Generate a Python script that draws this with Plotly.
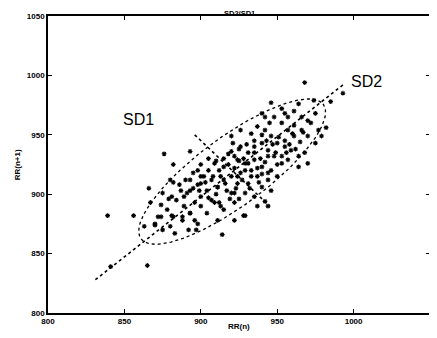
import numpy as np
import plotly.graph_objects as go

# RR(n) / RR(n+1) Poincaré points (ms)
rr_n = [839, 856, 865, 841, 876, 882, 893, 968, 982, 985, 993, 928, 922, 914,
        882, 887, 881, 878, 872, 870, 875, 882, 888, 893, 896, 892, 896, 891,
        893, 898, 902, 904, 907, 900, 899, 911, 913, 915, 909, 918, 921, 916,
        920, 913, 911, 922, 924, 924,
        946, 964, 974, 957, 966, 972, 977, 979, 975, 970, 966, 961, 957, 953,
        948, 942, 937, 933, 926, 942, 946, 950, 955, 959, 964, 968, 970, 964,
        957, 953, 948, 944, 940, 935, 931, 926, 922, 929, 935, 940, 946, 950,
        944, 937, 933, 926, 924, 931, 940, 946, 935, 929, 922, 937, 942, 944,
        929, 920, 940, 955,
        880, 875, 879, 867, 874, 889, 893, 900, 907, 911, 893, 888, 881, 874,
        870, 880, 883, 898, 897, 904, 909, 863, 866,
        912, 915, 918, 920, 922, 925, 927, 929, 931, 933, 935, 937, 939, 910,
        905, 908, 903, 900, 898, 895, 917, 919, 923, 940, 942, 944, 947, 949,
        951, 953, 955, 958, 960, 962, 965, 945, 940, 935, 930, 925, 920, 915,
        910, 905, 900, 895, 890, 886, 884, 889, 900, 905, 912, 915, 925, 932,
        938, 944, 950, 956, 961, 967, 970, 975, 961, 953, 943, 928]
rr_n1 = [882, 882, 840, 839, 934, 925, 936, 994, 956, 978, 985, 882, 878, 866,
         910, 903, 898, 887, 881, 874, 870, 881, 878, 884, 878, 870, 893, 901,
         912, 920, 915, 903, 895, 898, 903, 906, 915, 923, 926, 934, 943, 909,
         901, 890, 878, 893, 915, 929,
         977, 976, 979, 965, 965, 960, 954, 949, 943, 949, 954, 949, 954, 960,
         965, 965, 957, 951, 954, 954, 949, 943, 940, 937, 932, 935, 926, 923,
         929, 926, 932, 937, 943, 940, 935, 940, 932, 926, 929, 923, 920, 915,
         912, 915, 920, 918, 909, 909, 906, 903, 898, 901, 901, 890, 894, 890,
         882, 949, 968, 968,
         912, 901, 896, 893, 891, 898, 903, 909, 912, 906, 884, 881, 882, 881,
         875, 873, 867, 875, 870, 884, 893, 873, 905,
         920, 912, 925, 915, 922, 928, 912, 920, 926, 915, 935, 922, 930, 900,
         920, 915, 910, 915, 908, 905, 903, 896, 905, 917, 927, 932, 942, 935,
         948, 932, 945, 942, 951, 938, 944, 960, 950, 945, 942, 938, 936, 930,
         928, 930, 925, 918, 912, 908, 895, 890, 890, 897, 893, 887, 896, 905,
         910, 918, 925, 935, 958, 952, 962, 968, 970, 972, 945, 930]

# Poincaré descriptors (ms)
center_x, center_y = 920.5, 919.0
sd2_half = 82.5
sd1_half = 26.0
sd2_line_x = [831, 993]
sd2_line_y = [828, 992]
sd1_line_x = [896, 945]
sd1_line_y = [950, 890]

x_ticks = [800, 850, 900, 950, 1000, 1050]
y_ticks = [800, 850, 900, 950, 1000, 1050]

t = np.linspace(0, 2 * np.pi, 200)
ang = np.pi / 4
ex = center_x + sd2_half * np.cos(t) * np.cos(ang) - sd1_half * np.sin(t) * np.sin(ang)
ey = center_y + sd2_half * np.cos(t) * np.sin(ang) + sd1_half * np.sin(t) * np.cos(ang)

fig = go.Figure()
fig.add_trace(go.Scatter(x=ex, y=ey, mode="lines",
                         line=dict(color="black", width=1.3, dash="dot"),
                         showlegend=False, hoverinfo="skip"))
fig.add_trace(go.Scatter(x=sd2_line_x, y=sd2_line_y, mode="lines",
                         line=dict(color="black", width=1.6, dash="dot"),
                         showlegend=False, hoverinfo="skip"))
fig.add_trace(go.Scatter(x=sd1_line_x, y=sd1_line_y, mode="lines",
                         line=dict(color="black", width=1.6, dash="dot"),
                         showlegend=False, hoverinfo="skip"))
fig.add_trace(go.Scatter(x=rr_n, y=rr_n1, mode="markers",
                         marker=dict(symbol="asterisk-open", size=4, color="black",
                                     line=dict(color="black", width=1.1)),
                         showlegend=False, hoverinfo="skip"))

fig.add_annotation(x=859, y=963, text="SD1", showarrow=False,
                   font=dict(family="Liberation Sans", size=16, color="black"))
fig.add_annotation(x=1008.5, y=994.5, text="SD2", showarrow=False,
                   font=dict(family="Liberation Sans", size=16, color="black"))

tickfont = dict(family="Liberation Sans", size=8, color="black", weight="bold")
# axis titles and chart title placed as annotations, where the reference has them
fig.add_annotation(xref="paper", yref="paper", x=0.5, y=-0.047, yanchor="middle",
                   text="RR(n)", showarrow=False, font=tickfont)
fig.add_annotation(xref="paper", yref="paper", x=-0.079, y=0.5, xanchor="center",
                   textangle=-90, text="RR(n+1)", showarrow=False, font=tickfont)
fig.add_annotation(xref="paper", yref="paper", x=0.5, y=1.0, yanchor="bottom",
                   yshift=-3, borderpad=0, text="SD2/SD1", showarrow=False,
                   font=dict(family="Liberation Sans", size=7.5, color="black",
                             weight="bold"))

axis_common = dict(showgrid=False, zeroline=False, showline=True, linecolor="black",
                   linewidth=1.5, mirror="ticks", ticks="inside", ticklen=4,
                   tickcolor="black", tickfont=tickfont, automargin=False)
fig.update_xaxes(range=[800, 1050], tickvals=x_ticks, ticktext=[str(v) for v in x_ticks],
                 **axis_common)
fig.update_yaxes(range=[800, 1050], tickvals=y_ticks, ticktext=[str(v) for v in y_ticks],
                 **axis_common)
# the page body adds an 8px offset, so the figure is 8px smaller
fig.update_layout(width=429, height=330, margin=dict(l=40, r=7, t=8, b=25),
                  paper_bgcolor="white", plot_bgcolor="white")
fig.write_html("out.html")
